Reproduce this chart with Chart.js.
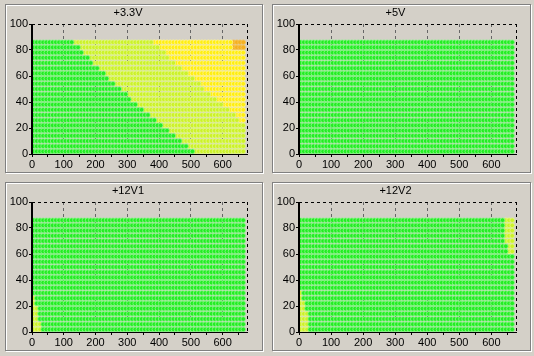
<!DOCTYPE html>
<html><head><meta charset="utf-8">
<script src="https://cdn.jsdelivr.net/npm/chart.js@4/dist/chart.umd.min.js"></script>
<style>
html,body{margin:0;padding:0;background:#D4D0C8;width:534px;height:356px;overflow:hidden;}
.box{position:absolute;border:1px solid #808080;box-shadow:inset 1px 1px 0 #fff,1px 1px 0 #fff;box-sizing:border-box;}
canvas{position:absolute;}
</style></head>
<body>
<div class="box" style="left:5px;top:4px;width:258px;height:169px"></div>
<div class="box" style="left:272px;top:4px;width:259px;height:169px"></div>
<div class="box" style="left:5px;top:182px;width:258px;height:169px"></div>
<div class="box" style="left:272px;top:182px;width:259px;height:169px"></div>
<canvas id="c0" style="left:5px;top:4px"></canvas>
<canvas id="c1" style="left:272px;top:4px"></canvas>
<canvas id="c2" style="left:5px;top:182px"></canvas>
<canvas id="c3" style="left:272px;top:182px"></canvas>
<script>
// Panel titles
const titles = ["+3.3V", "+5V", "+12V1", "+12V2"];
// Load grid (x = total load, y = row)
const xLoads = [5,15,25,35,45,55,65,75,85,95,105,115,125,135,145,155,165,175,185,195,205,215,225,235,245,255,265,275,285,295,305,315,325,335,345,355,365,375,385,395,405,415,425,435,445,455,465,475,485,495,505,515,525,535,545,555,565,575,585,595,605,615,625,635,645,655,665];
const yLoads = [2,6,10,14,18,22,26,30,34,38,42,46,50,54,58,62,66,70,74,78,82,86];
// Region boundaries read per row (aligned with yLoads); 999 = none, -1 = none
const p33GreenMax  = [505,485,465,445,425,405,385,370,350,330,310,295,275,260,240,225,205,190,175,160,145,125];
const p33YellowMin = [999,999,999,999,999,999,655,640,620,600,580,565,545,530,510,490,475,455,435,420,400,385];
const p33OrangeMin = [999,999,999,999,999,999,999,999,999,999,999,999,999,999,999,999,999,999,999,999,635,635];
const p12v1LeftMax = [25,25,15,15,15,5,5,-1,-1,-1,-1,-1,-1,-1,-1,-1,-1,-1,-1,-1,-1,-1];
const p12v2LeftMax = [25,25,25,25,15,15,5,5,-1,-1,-1,-1,-1,-1,-1,-1,-1,-1,-1,-1,-1,-1];
const p12v2RightMin= [999,999,999,999,999,999,999,999,999,999,999,999,999,999,999,655,655,645,645,645,645,645];
const xTickLabels = [0,100,200,300,400,500,600];
const yTickLabels = [0,20,40,60,80,100];

const COLORS = {green:'#22EE22', yg:'#CCF228', yellow:'#FFEE10', orange:'#F4B020'};
const EDGES  = {green:'#8CF58C', yg:'#E2F78C', yellow:'#FFF590', orange:'#F6C458'};

const panels = [
  {greenMax:p33GreenMax, yellowMin:p33YellowMin, orangeMin:p33OrangeMin},
  {},
  {leftMax:p12v1LeftMax},
  {leftMax:p12v2LeftMax, rightMin:p12v2RightMin}
];

function classify(p, xi, yi){
  const x = xLoads[xi];
  if (p.orangeMin && x >= p.orangeMin[yi]) return 'orange';
  if (p.yellowMin && x >= p.yellowMin[yi]) return 'yellow';
  if (p.greenMax && x > p.greenMax[yi]) return 'yg';
  if (p.leftMax && x <= p.leftMax[yi]) return 'yg';
  if (p.rightMin && x >= p.rightMin[yi]) return 'yg';
  return 'green';
}

const frame = {
  id:'frame',
  afterDatasetsDraw(chart){
    const a = chart.chartArea, c = chart.ctx;
    c.save();
    c.strokeStyle='#000'; c.lineWidth=1; c.setLineDash([3,3]);
    c.beginPath();
    c.moveTo(a.left, a.top+0.5); c.lineTo(a.right, a.top+0.5);
    c.moveTo(a.right-0.5, a.top); c.lineTo(a.right-0.5, a.bottom);
    c.stroke();
    c.setLineDash([]);
    c.lineWidth=2;
    c.beginPath(); c.moveTo(a.left, a.top); c.lineTo(a.left, a.bottom+1); c.stroke();
    c.lineWidth=1;
    c.beginPath(); c.moveTo(a.left, a.bottom+0.5); c.lineTo(a.right, a.bottom+0.5); c.stroke();
    c.restore();
  },
  afterDraw(chart){
    const c = chart.ctx;
    c.save();
    c.fillStyle='#000'; c.font='11px "Liberation Sans", Arial, sans-serif';
    c.textAlign='center'; c.textBaseline='middle';
    c.fillText(chart.options.plugins.frame.text, chart.width/2 - 6, 9);
    c.restore();
  }
};

panels.forEach((p, i) => {
  const groups = {green:[], yg:[], yellow:[], orange:[]};
  yLoads.forEach((y, yi) => xLoads.forEach((x, xi) => {
    groups[classify(p, xi, yi)].push({x, y});
  }));
  const datasets = Object.keys(groups).filter(k => groups[k].length).map(k => ({
    data: groups[k], backgroundColor: COLORS[k], borderColor: EDGES[k], borderWidth:0.8,
    pointRadius:2.3, pointHoverRadius:2.3, showLine:false
  }));
  const cv = document.getElementById('c'+i);
  cv.width = i%2 ? 259 : 258; cv.height = 169;
  new Chart(cv, {
    type:'scatter',
    data:{datasets},
    plugins:[frame],
    options:{
      responsive:false, animation:false, devicePixelRatio:1,
      events:[],
      layout:{padding:{top:20, right:i%2?14:15, left:0, bottom:0}},
      plugins:{legend:{display:false}, tooltip:{enabled:false}, title:{display:false}, frame:{text:titles[i]}},
      scales:{
        x:{
          type:'linear', min:0, max:680,
          afterBuildTicks(s){ s.ticks = [0,50,100,150,200,250,300,350,400,450,500,550,600,650].map(v=>({value:v})); },
          afterFit(s){ s.height = 19; },
          ticks:{color:'#000', font:{family:'"Liberation Sans", Arial, sans-serif', size:11}, padding:1, maxRotation:0, autoSkip:false,
            callback(v){ return xTickLabels.includes(v) ? String(v) : ''; }},
          grid:{drawOnChartArea:true, tickLength:3, tickColor:'#000',
            color(ctx){ const v = ctx.tick && ctx.tick.value; return (v>0 && v%100===0) ? '#666' : 'rgba(0,0,0,0)'; }},
          border:{display:false, dash:[3,3]}
        },
        y:{
          type:'linear', min:0, max:100,
          afterBuildTicks(s){ s.ticks = yTickLabels.map(v=>({value:v})); },
          afterFit(s){ s.width = 27; },
          ticks:{color:'#000', font:{family:'"Liberation Sans", Arial, sans-serif', size:11}, padding:1},
          grid:{drawOnChartArea:false, tickLength:3, tickColor:'#000'},
          border:{display:false}
        }
      }
    }
  });
});
</script>
</body></html>
